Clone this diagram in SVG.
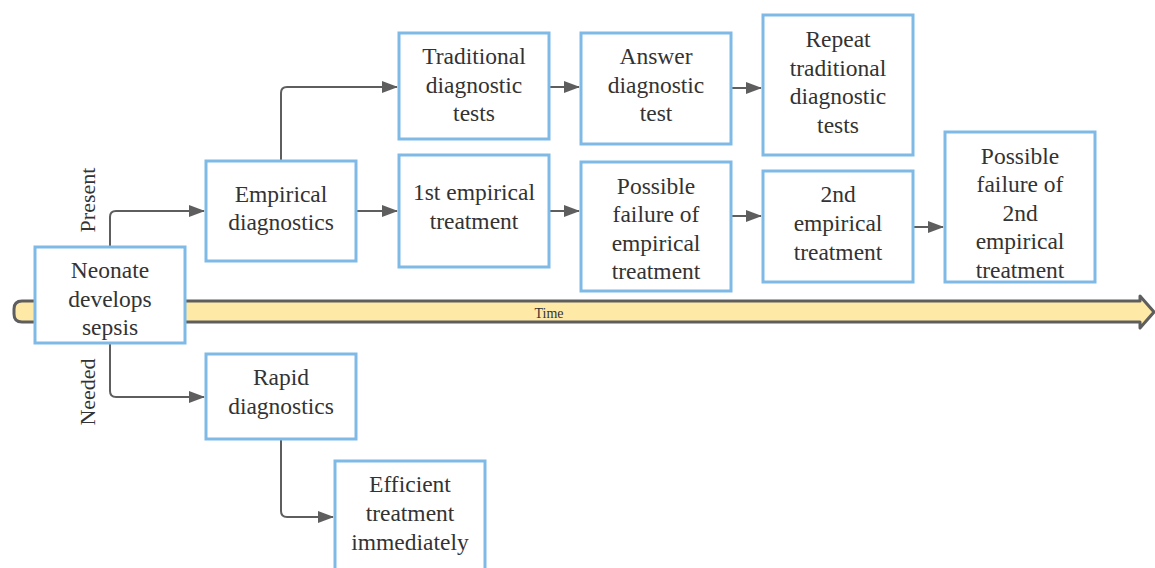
<svg xmlns="http://www.w3.org/2000/svg" width="1155" height="568" viewBox="0 0 1155 568">
<style>
.box{fill:#fff;stroke:#7fb9e6;stroke-width:3}
.t{font-family:"Liberation Serif",serif;font-size:23.5px;fill:#333;text-anchor:middle}
.c{fill:none;stroke:#5e5e5e;stroke-width:2}
.lbl{font-family:"Liberation Serif",serif;font-size:22px;fill:#333;text-anchor:middle}
</style>
<defs>
<marker id="ah" viewBox="0 0 16 12" refX="15" refY="6" markerWidth="16" markerHeight="12" markerUnits="userSpaceOnUse" orient="auto">
<path d="M0,0 L16,6 L0,12 z" fill="#5e5e5e"/>
</marker>
</defs>
<rect width="1155" height="568" fill="#fff"/>
<g id="timeline">
<path d="M22,301 L1140,301 L1140,296 L1154,312 L1140,328 L1140,322 L22,322 Q14,322 14,314 L14,309 Q14,301 22,301 Z" fill="#ffe9a6" stroke="#5e5e5e" stroke-width="3" stroke-linejoin="round"/>
<text x="549" y="318" font-family="Liberation Serif,serif" font-size="14" fill="#333" text-anchor="middle">Time</text>
</g>
<g id="connectors">
<path class="c" d="M110,247 L110,217 Q110,211 116,211 L204,211" marker-end="url(#ah)"/>
<path class="c" d="M110,343 L110,391 Q110,397 116,397 L204,397" marker-end="url(#ah)"/>
<path class="c" d="M281,161 L281,93 Q281,87 287,87 L397,87" marker-end="url(#ah)"/>
<path class="c" d="M356,211 L397,211" marker-end="url(#ah)"/>
<path class="c" d="M549,211 L579,211" marker-end="url(#ah)"/>
<path class="c" d="M549,87 L579,87" marker-end="url(#ah)"/>
<path class="c" d="M731,88 L761,88" marker-end="url(#ah)"/>
<path class="c" d="M731,216 L761,216" marker-end="url(#ah)"/>
<path class="c" d="M913,227 L943,227" marker-end="url(#ah)"/>
<path class="c" d="M281,439 L281,511 Q281,517 287,517 L333,517" marker-end="url(#ah)"/>
<text class="lbl" transform="translate(95,200) rotate(-90)">Present</text>
<text class="lbl" transform="translate(95,392) rotate(-90)">Needed</text>
</g>
<g id="neonate">
<rect class="box" x="35" y="247" width="150" height="96"/>
<text class="t" x="110" y="278">Neonate</text>
<text class="t" x="110" y="307">develops</text>
<text class="t" x="110" y="335">sepsis</text>
</g>
<g id="empirical-diagnostics">
<rect class="box" x="206" y="161" width="150" height="100"/>
<text class="t" x="281" y="202">Empirical</text>
<text class="t" x="281" y="230">diagnostics</text>
</g>
<g id="rapid-diagnostics">
<rect class="box" x="206" y="354" width="150" height="85"/>
<text class="t" x="281" y="385">Rapid</text>
<text class="t" x="281" y="414">diagnostics</text>
</g>
<g id="efficient-treatment">
<rect class="box" x="335" y="461" width="150" height="120"/>
<text class="t" x="410" y="492">Efficient</text>
<text class="t" x="410" y="521">treatment</text>
<text class="t" x="410" y="550">immediately</text>
</g>
<g id="traditional-tests">
<rect class="box" x="399" y="33" width="150" height="106"/>
<text class="t" x="474" y="64">Traditional</text>
<text class="t" x="474" y="93">diagnostic</text>
<text class="t" x="474" y="121">tests</text>
</g>
<g id="first-empirical">
<rect class="box" x="399" y="155" width="150" height="112"/>
<text class="t" x="474" y="200">1st empirical</text>
<text class="t" x="474" y="229">treatment</text>
</g>
<g id="answer-test">
<rect class="box" x="581" y="33" width="150" height="111"/>
<text class="t" x="656" y="64">Answer</text>
<text class="t" x="656" y="93">diagnostic</text>
<text class="t" x="656" y="121">test</text>
</g>
<g id="possible-failure-1">
<rect class="box" x="581" y="162" width="150" height="129"/>
<text class="t" x="656" y="194">Possible</text>
<text class="t" x="656" y="222">failure of</text>
<text class="t" x="656" y="251">empirical</text>
<text class="t" x="656" y="279">treatment</text>
</g>
<g id="repeat-tests">
<rect class="box" x="763" y="15" width="150" height="140"/>
<text class="t" x="838" y="47">Repeat</text>
<text class="t" x="838" y="76">traditional</text>
<text class="t" x="838" y="104">diagnostic</text>
<text class="t" x="838" y="133">tests</text>
</g>
<g id="second-empirical">
<rect class="box" x="763" y="171" width="150" height="111"/>
<text class="t" x="838" y="202">2nd</text>
<text class="t" x="838" y="231">empirical</text>
<text class="t" x="838" y="260">treatment</text>
</g>
<g id="possible-failure-2">
<rect class="box" x="945" y="132" width="150" height="150"/>
<text class="t" x="1020" y="164">Possible</text>
<text class="t" x="1020" y="192">failure of</text>
<text class="t" x="1020" y="221">2nd</text>
<text class="t" x="1020" y="249">empirical</text>
<text class="t" x="1020" y="278">treatment</text>
</g>
</svg>
